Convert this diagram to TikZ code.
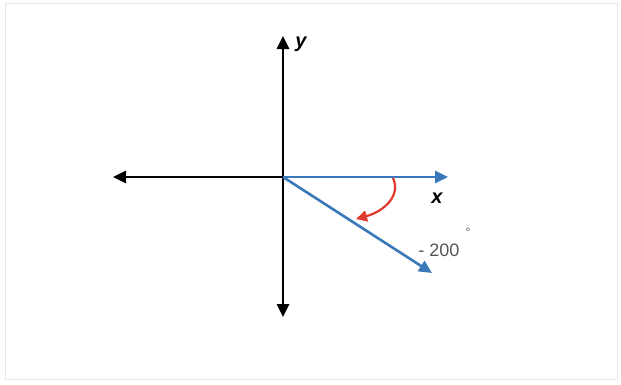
\documentclass[tikz,border=0pt]{standalone}
\usepackage{fontspec}
\setmainfont{Liberation Sans}
\usetikzlibrary{arrows.meta}
\definecolor{axisblue}{HTML}{3A78BA}
\definecolor{turnred}{HTML}{E0392B}
\definecolor{framegray}{HTML}{E6E6E6}
\definecolor{labelgray}{HTML}{555555}
\tikzset{
  axisline/.style={line width=2.6pt,-{Triangle[length=13pt,width=12pt]}},
  axislabel/.style={font=\bfseries\itshape\fontsize{20}{20}\selectfont,inner sep=0pt},
}
\begin{document}
\begin{tikzpicture}[x=1pt,y=-1pt]
\useasboundingbox (0,0) rectangle (621,384);
\fill[white] (0,0) rectangle (621,384);
\draw[framegray,line width=1pt] (5,3) rectangle (617,379);
\coordinate (O) at (283,177);
\coordinate (L) at (113,177);
\coordinate (T) at (283,36);
\coordinate (B) at (283,317);
\coordinate (R) at (448,177);
\coordinate (D) at (432,273);
\coordinate (s) at (393,178);
\coordinate (e) at (356,219);
\draw[axisline] (O) -- (L);
\draw[axisline] (O) -- (T);
\draw[axisline] (O) -- (B);
\draw[axisline,axisblue] (O) -- (R);
\draw[axisline,axisblue] (O) -- (D);
\draw[turnred,line width=2.2pt,-{Triangle[length=11pt,width=11pt]}] (s) .. controls (401,195) and (385,211) .. (e);
\node[axislabel] (ylab) at (301,44) {y};
\node[axislabel] (xlab) at (437,198) {x};
\node[font=\fontsize{18}{18}\selectfont,text=labelgray,inner sep=0pt] (ang) at (439,250) {- 200};
\node[font=\fontsize{12}{12}\selectfont,text=labelgray,inner sep=0pt] (deg) at (468,232) {°};
\end{tikzpicture}
\end{document}
